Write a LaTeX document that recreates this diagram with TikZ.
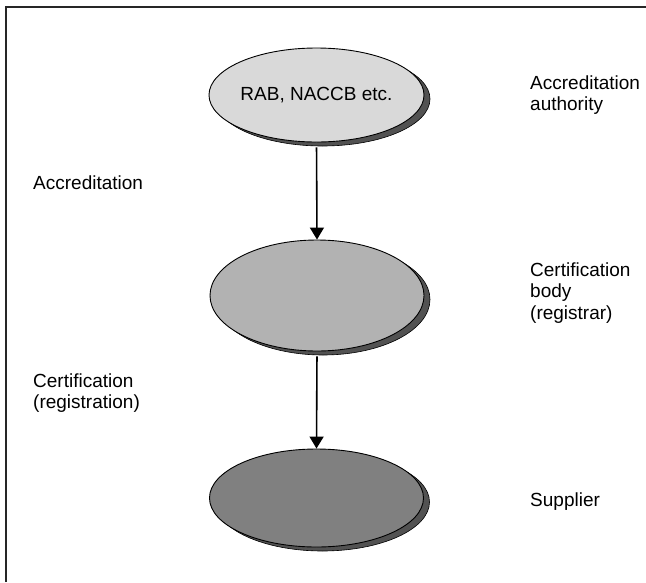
\documentclass[tikz,border=0pt]{standalone}
\usepackage{fontspec}
\setmainfont{Liberation Sans}
\usetikzlibrary{shapes.geometric,shadows,arrows.meta}
\begin{document}
\begin{tikzpicture}[x=1pt,y=-1pt,
  oval/.style={ellipse,draw=black,line width=0.9pt,inner sep=0pt,
    minimum width=214pt,
    drop shadow={shadow xshift=6pt,shadow yshift=-4pt,fill=black!68,draw=black,line width=0.6pt,opacity=1}},
  lbl/.style={anchor=west,align=left,inner sep=0pt,font=\fontsize{19}{21.5}\selectfont},
  arr/.style={line width=1.6pt,-{Triangle[length=12pt,width=14pt]}},
  frame/.style={line width=1.6pt,black!85}]
\useasboundingbox (0,0) rectangle (646,582);
\draw[frame] (6,582) -- (6,7) -- (646,7);
\node[oval,fill=black!15,minimum height=94pt,font=\fontsize{19}{21.5}\selectfont] (e1) at (316.5,95) {RAB, NACCB etc.};
\node[oval,fill=black!30,minimum height=111pt] (e2) at (317,295.5) {};
\node[oval,fill=black!50,minimum height=98pt] (e3) at (316.5,498) {};
\draw[arr,shorten <=5pt] (e1.south) -- (e2.north);
\draw[arr,shorten <=5pt] (e2.south) -- (e3.north);
\node[lbl] (l1) at (530,95) {Accreditation\\authority};
\node[lbl] (l2) at (33,183) {Accreditation};
\node[lbl] (l3) at (530,293) {Certification\\body\\(registrar)};
\node[lbl] (l4) at (33,393) {Certification\\(registration)};
\node[lbl] (l5) at (530,502) {Supplier};
\end{tikzpicture}
\end{document}
